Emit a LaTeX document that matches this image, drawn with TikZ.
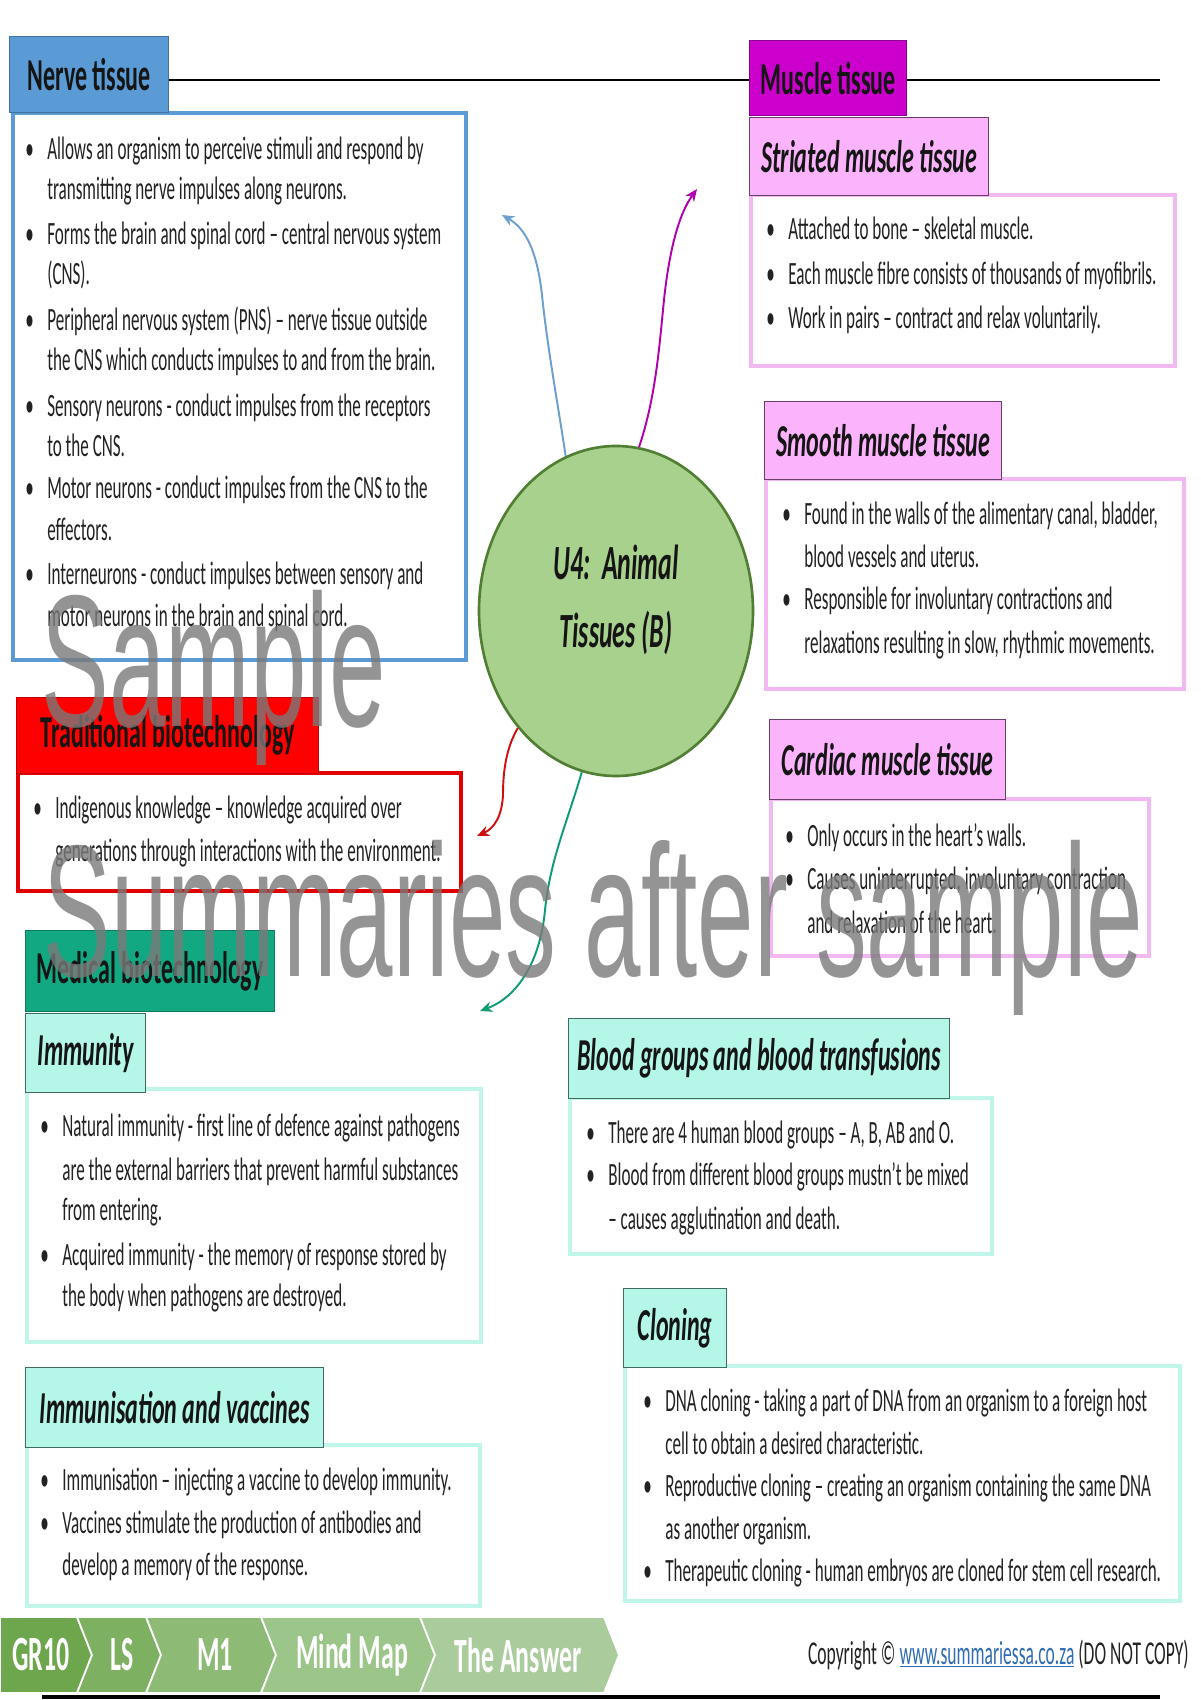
\documentclass[tikz,border=0pt]{standalone}
\usepackage{fontspec}
\setmainfont{Carlito}[FakeStretch=0.525]
\newfontfamily\wmfont{Liberation Sans}[FakeStretch=0.54]
\usetikzlibrary{shapes.geometric,arrows.meta}
\newdimen\px \px=0.02cm
\definecolor{txtc}{HTML}{222222}
\definecolor{hdtc}{HTML}{151515}
\definecolor{nerveF}{HTML}{5B9BD5}
\definecolor{nerveD}{HTML}{41719C}
\definecolor{musF}{HTML}{CC00CC}
\definecolor{musD}{HTML}{8E008E}
\definecolor{pinkF}{HTML}{FBB4FB}
\definecolor{pinkD}{HTML}{6A3F6A}
\definecolor{pinkB}{HTML}{F2B8F2}
\definecolor{redF}{HTML}{FF0000}
\definecolor{redD}{HTML}{C00000}
\definecolor{redB}{HTML}{E00000}
\definecolor{medF}{HTML}{12A882}
\definecolor{medD}{HTML}{0E7A5E}
\definecolor{aquaF}{HTML}{B4F7E8}
\definecolor{aquaD}{HTML}{3F6B60}
\definecolor{aquaB}{HTML}{C0F5EA}
\definecolor{ellF}{HTML}{A9D18E}
\definecolor{ellD}{HTML}{507E32}
\definecolor{blueA}{HTML}{6A9FD0}
\definecolor{magA}{HTML}{B000B0}
\definecolor{redA}{HTML}{D01010}
\definecolor{tealA}{HTML}{109B78}
\definecolor{linkc}{HTML}{2E6DB4}
\definecolor{ch1}{HTML}{6EA64E}
\definecolor{ch2}{HTML}{7DB061}
\definecolor{ch3}{HTML}{8DBB75}
\definecolor{ch4}{HTML}{9CC58A}
\definecolor{ch5}{HTML}{AACB9C}
\definecolor{wmc}{HTML}{7A7A7A}
\tikzset{
  bodytxt/.style={inner sep=0, anchor=base west, text=txtc, font=\fontsize{18.5}{22}\selectfont},
  hdrbox/.style={draw, line width=0.8pt, inner sep=0, text=hdtc, font=\fontsize{26}{30}\selectfont\bfseries},
  subbox/.style={hdrbox, font=\fontsize{26}{30}\selectfont\bfseries\itshape},
  bodybox/.style={draw, line width=2.4pt, fill=white, inner sep=0},
  arr/.style={line width=1.1pt, -{Stealth[length=7pt,width=6pt]}},
  chev/.style={draw=white, line width=1pt},
  chevtxt/.style={text=white, font=\fontsize{28}{30}\selectfont\bfseries, inner sep=0},
  wm/.style={text=wmc, opacity=0.8, inner sep=0, anchor=base west, font=\wmfont\fontsize{107}{107}\selectfont}
}
\newcommand\bx[7]{\node[#1, minimum width={(#5-#3)*\px}, minimum height={(#6-#4)*\px}, anchor=north west] (#2) at (#3,#4) {#7};}
\newcommand\bl[4]{\node[bodytxt] (#1) at (#2,#3) {\makebox[22\px][l]{\textbullet}#4};}
\newcommand\ct[4]{\node[bodytxt] (#1) at ({#2+22},#3) {#4};}
\begin{document}
\begin{tikzpicture}[x=0.02cm, y=-0.02cm]
\useasboundingbox (0,0) rectangle (1200,1700);
\fill[white] (0,0) rectangle (1200,1700);

% top rule
\coordinate (lineend) at (1160,80);
\coordinate (linestart) at (168,80);
\draw[line width=1.5pt] (linestart) -- (lineend);

% body boxes
\bx{bodybox, draw=nerveF}{nerveb}{11}{111}{464}{658}{}
\bx{bodybox, draw=pinkB}{strb}{749}{193}{1173}{364}{}
\bx{bodybox, draw=pinkB}{smob}{764}{477}{1182}{687}{}
\bx{bodybox, draw=pinkB}{carb}{769}{797}{1147}{954}{}
\bx{bodybox, draw=redB}{trab}{16}{771}{459}{889}{}
\bx{bodybox, draw=aquaB}{immb}{25}{1087}{479}{1340}{}
\bx{bodybox, draw=aquaB}{vacb}{25}{1443}{478}{1604}{}
\bx{bodybox, draw=aquaB}{blob}{568}{1096}{990}{1252}{}
\bx{bodybox, draw=aquaB}{clob}{623}{1364}{1178}{1599}{}

% headers
\bx{hdrbox, draw=nerveD, fill=nerveF}{nerveh}{9}{36}{168}{112}{Nerve tissue}
\bx{hdrbox, draw=musD, fill=musF}{muscleh}{749}{40}{906}{115}{Muscle tissue}
\bx{subbox, draw=pinkD, fill=pinkF}{strh}{749}{117}{988}{195}{Striated muscle tissue}
\bx{subbox, draw=pinkD, fill=pinkF}{smoh}{764}{401}{1001}{479}{Smooth muscle tissue}
\bx{subbox, draw=pinkD, fill=pinkF}{carh}{769}{719}{1005}{799}{Cardiac muscle tissue}
\bx{hdrbox, draw=redD, fill=redF}{trah}{16}{697}{318}{773}{Traditional biotechnology}
\bx{hdrbox, draw=medD, fill=medF}{medh}{25}{930}{274}{1011}{Medical biotechnology}
\bx{subbox, draw=aquaD, fill=aquaF}{immh}{25}{1013}{145}{1092}{Immunity}
\bx{subbox, draw=aquaD, fill=aquaF}{vach}{25}{1367}{323}{1447}{Immunisation and vaccines}
\bx{subbox, draw=aquaD, fill=aquaF}{bloh}{568}{1018}{949}{1098}{Blood groups and blood transfusions}
\bx{subbox, draw=aquaD, fill=aquaF}{cloh}{623}{1288}{726}{1367}{Cloning}

% nerve text
\bl{n1}{25}{159}{Allows an organism to perceive stimuli and respond by}
\ct{n2}{25}{199}{transmitting nerve impulses along neurons.}
\bl{n3}{25}{244}{Forms the brain and spinal cord – central nervous system}
\ct{n4}{25}{284}{(CNS).}
\bl{n5}{25}{330}{Peripheral nervous system (PNS) – nerve tissue outside}
\ct{n6}{25}{370}{the CNS which conducts impulses to and from the brain.}
\bl{n7}{25}{416}{Sensory neurons - conduct impulses from the receptors}
\ct{n8}{25}{456}{to the CNS.}
\bl{n9}{25}{498}{Motor neurons - conduct impulses from the CNS to the}
\ct{n10}{25}{540}{effectors.}
\bl{n11}{25}{584}{Interneurons - conduct impulses between sensory and}
\ct{n12}{25}{626}{motor neurons in the brain and spinal cord.}

% striated
\bl{s1}{766}{239}{Attached to bone – skeletal muscle.}
\bl{s2}{766}{284}{Each muscle fibre consists of thousands of myofibrils.}
\bl{s3}{766}{328}{Work in pairs – contract and relax voluntarily.}

% smooth
\bl{m1}{782}{524}{Found in the walls of the alimentary canal, bladder,}
\ct{m2}{782}{567}{blood vessels and uterus.}
\bl{m3}{782}{609}{Responsible for involuntary contractions and}
\ct{m4}{782}{653}{relaxations resulting in slow, rhythmic movements.}

% cardiac
\bl{c1}{785}{846}{Only occurs in the heart’s walls.}
\bl{c2}{785}{889}{Causes uninterrupted, involuntary contraction}
\ct{c3}{785}{933}{and relaxation of the heart.}

% traditional
\bl{t1}{33}{818}{Indigenous knowledge – knowledge acquired over}
\ct{t2}{33}{861}{generations through interactions with the environment.}

% immunity
\bl{i1}{40}{1136}{Natural immunity - first line of defence against pathogens}
\ct{i2}{40}{1180}{are the external barriers that prevent harmful substances}
\ct{i3}{40}{1220}{from entering.}
\bl{i4}{40}{1265}{Acquired immunity - the memory of response stored by}
\ct{i5}{40}{1306}{the body when pathogens are destroyed.}

% immunisation
\bl{v1}{40}{1490}{Immunisation – injecting a vaccine to develop immunity.}
\bl{v2}{40}{1533}{Vaccines stimulate the production of antibodies and}
\ct{v3}{40}{1575}{develop a memory of the response.}

% blood
\bl{b1}{586}{1143}{There are 4 human blood groups – A, B, AB and O.}
\bl{b2}{586}{1185}{Blood from different blood groups mustn’t be mixed}
\ct{b3}{586}{1229}{– causes agglutination and death.}

% cloning
\bl{k1}{643}{1411}{DNA cloning - taking a part of DNA from an organism to a foreign host}
\ct{k2}{643}{1454}{cell to obtain a desired characteristic.}
\bl{k3}{643}{1496}{Reproductive cloning – creating an organism containing the same DNA}
\ct{k4}{643}{1539}{as another organism.}
\bl{k5}{643}{1581}{Therapeutic cloning - human embryos are cloned for stem cell research.}

% central ellipse
\node[ellipse, draw=ellD, fill=ellF, line width=1.5pt, minimum width=274\px, minimum height=330\px, inner sep=0] (ell) at (616,611) {};
\node[align=center, inner sep=0, text=hdtc, font=\fontsize{28}{38.6}\selectfont\bfseries\itshape] (ctitle) at (616,600) {U4:\ \ Animal\\Tissues (B)};

% connectors
\coordinate (bt) at (502,215);
\coordinate (mt) at (697,189);
\coordinate (rt) at (477,836);
\coordinate (tt) at (480,1011);
\draw[arr, blueA] (ell.108) .. controls (558,405) and (547,345) .. (542,295) .. controls (537,250) and (525,228) .. (bt);
\draw[arr, magA] (ell.82) .. controls (655,400) and (659,350) .. (663,310) .. controls (668,255) and (678,215) .. (mt);
\draw[arr, redA] (ell.230) .. controls (505,750) and (503,775) .. (503,795) .. controls (502,815) and (495,828) .. (rt);
\draw[arr, tealA] (ell.258) .. controls (568,820) and (550,860) .. (545,910) .. controls (540,965) and (515,998) .. (tt);

% footer chevrons
\fill[ch1, chev] (0,1617) -- (77,1617) -- (92,1655) -- (77,1693) -- (0,1693) -- cycle;
\fill[ch2, chev] (77,1617) -- (146,1617) -- (161,1655) -- (146,1693) -- (77,1693) -- (92,1655) -- cycle;
\fill[ch3, chev] (146,1617) -- (261,1617) -- (276,1655) -- (261,1693) -- (146,1693) -- (161,1655) -- cycle;
\fill[ch4, chev] (261,1617) -- (420,1617) -- (435,1655) -- (420,1693) -- (261,1693) -- (276,1655) -- cycle;
\fill[ch5, chev] (420,1617) -- (604,1617) -- (619,1655) -- (604,1693) -- (420,1693) -- (435,1655) -- cycle;
\node[chevtxt] (f1) at (41,1655) {GR10};
\node[chevtxt] (f2) at (122,1655) {LS};
\node[chevtxt] (f3) at (215,1655) {M1};
\node[chevtxt] (f4) at (352,1655) {Mind Map};
\node[chevtxt] (f5) at (518,1655) {The Answer};

\node[inner sep=0, anchor=base east, text=txtc, font=\fontsize{19}{22}\selectfont] (copy) at (1189,1664) {Copyright © \textcolor{linkc}{\underline{www.summariessa.co.za}} (DO NOT COPY)};
\draw[line width=2pt] (42,1697) -- (1160,1697);

% watermark
\node[wm] (wm1) at (41,726) {Sample};
\node[wm] (wm2) at (43,976) {Summaries after sample};
\end{tikzpicture}
\end{document}
